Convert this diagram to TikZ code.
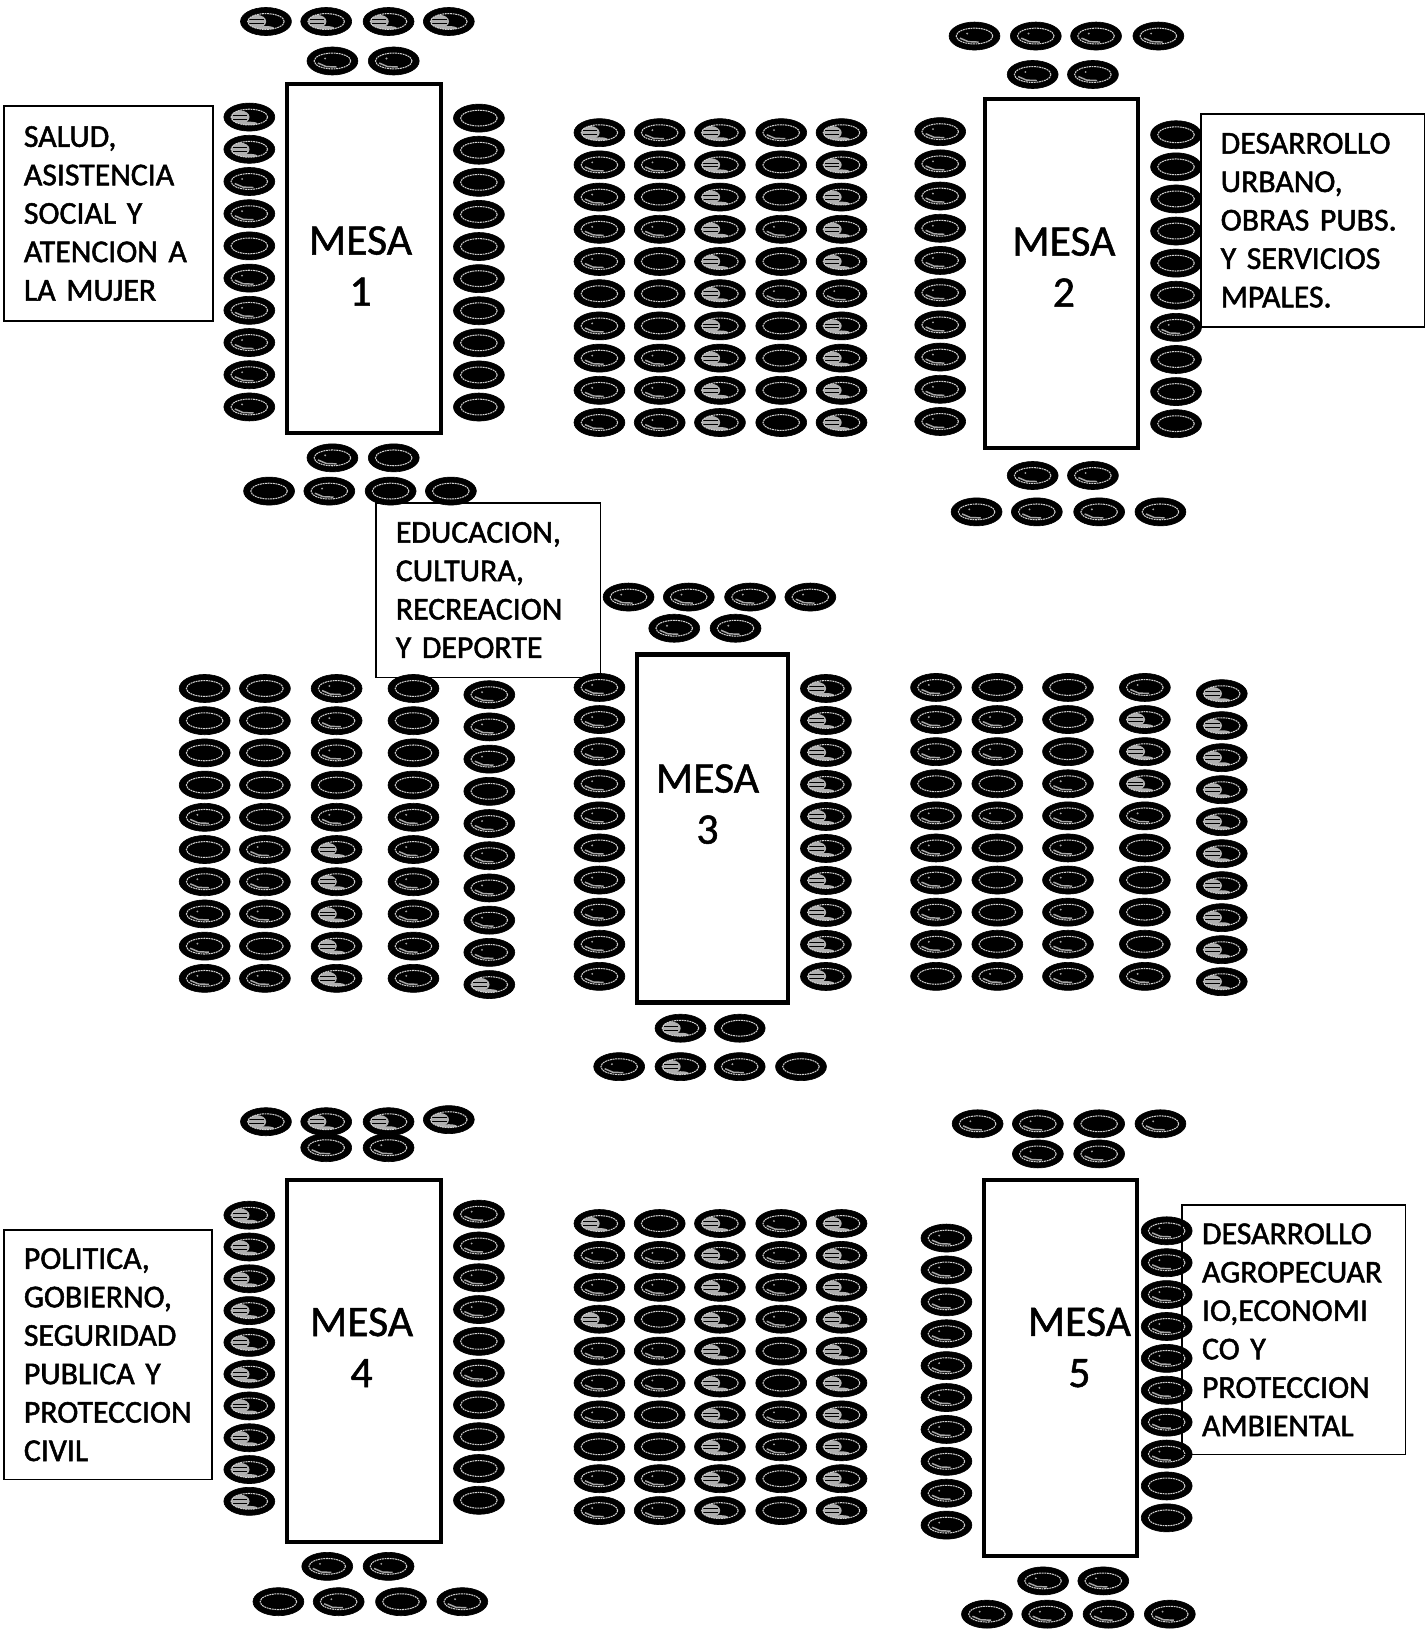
\documentclass[tikz,border=0pt]{standalone}
\usepackage{fontspec}
\setmainfont{Carlito}
\newfontfamily\boxfam[FakeBold=1.6,WordSpace=0.5]{Carlito}
\newfontfamily\mesafam[FakeBold=1.2]{Carlito}
\usetikzlibrary{shapes.geometric}
\tikzset{
  seatbase/.style={ellipse,fill=black,draw=black,line width=0.3pt,inner sep=0pt,minimum width=24.5pt,minimum height=13.5pt},
  ring/.style={draw=white!82!black,line width=0.5pt,dash pattern=on 0.9pt off 0.35pt},
  seat1/.style={seatbase,path picture={
     \draw[ring] (path picture bounding box.center) ellipse [x radius=8.8pt,y radius=3.8pt];}},
  seat2/.style={seatbase,path picture={
     \draw[draw=gray!70,line width=0.7pt] ([xshift=-7pt,yshift=-1pt]path picture bounding box.center) -- ([xshift=-3pt,yshift=-2.7pt]path picture bounding box.center) -- ([xshift=2pt,yshift=-2.9pt]path picture bounding box.center);
     \fill[gray!70] ([xshift=-3.5pt,yshift=1.2pt]path picture bounding box.center) circle [radius=0.5pt];
     \draw[ring] (path picture bounding box.center) ellipse [x radius=8.8pt,y radius=3.8pt];}},
  seat0/.style={seatbase,path picture={
     \begin{scope}
     \clip (path picture bounding box.center) ellipse [x radius=8.8pt,y radius=3.8pt];
     \fill[gray!62] ([xshift=-4.5pt]path picture bounding box.center) ellipse [x radius=4.6pt,y radius=3.2pt];
     \fill[gray!62] ([xshift=0pt,yshift=-3.2pt]path picture bounding box.center) ellipse [x radius=4pt,y radius=1pt];
     \draw[black,line width=0.35pt] ([xshift=-8pt,yshift=0.9pt]path picture bounding box.center) -- ([xshift=-1pt,yshift=0.9pt]path picture bounding box.center);
     \draw[black,line width=0.35pt] ([xshift=-8pt,yshift=-0.9pt]path picture bounding box.center) -- ([xshift=-1pt,yshift=-0.9pt]path picture bounding box.center);
     \end{scope}
     \draw[ring] (path picture bounding box.center) ellipse [x radius=8.8pt,y radius=3.8pt];}},
  mesabox/.style={rectangle,draw=black,line width=2pt,inner sep=0pt},
  mesatext/.style={align=center,inner sep=0pt,font=\mesafam\fontsize{21}{24.6}\selectfont},
  infobox/.style={rectangle,draw=black,line width=0.8pt,inner ysep=0pt,inner xsep=9.5pt,align=left,
     font=\boxfam\fontsize{15.3}{18.5}\selectfont},
}
% column of seats: prefix, x, first y, step, list of seat kinds
\newcommand{\seatcol}[5]{\foreach \s [count=\i from 0] in {#5}{
   \pgfmathsetmacro{\yy}{#3+0.7+\i*#4}
   \node[seat\s] (#1-\i) at (#2,\yy) {};}}
% row of seats: prefix, y, list of x/kind
\newcommand{\seatrow}[3]{\foreach \xx/\s [count=\i from 0] in {#3}{
   \node[seat\s] (#1-\i) at (\xx,#2+0.7) {};}}
\begin{document}
\begin{tikzpicture}[x=0.5pt,y=-0.5pt]
\useasboundingbox (0,0) rectangle (1372,1568);
% ---- MESA 1 seats
\seatrow{aa}{20}{256/0,314/0,374/0,432/0}
\seatrow{ab}{58}{320/2,379/2}
\seatcol{ac}{240}{112}{31}{0,0,2,2,1,2,2,2,2,2}
\seatcol{ad}{461}{113}{30.9}{1,1,1,1,1,1,1,1,1,1}
\seatrow{ae}{440}{320/2,379/1}
\seatrow{af}{472}{259/1,317/2,376/1,434/1}
% ---- block between 1 and 2
\seatcol{ba}{577}{127}{31}{0,2,2,2,2,1,2,2,2,2}
\seatcol{bb}{635}{127}{31}{2,2,1,2,1,1,1,2,2,2}
\seatcol{bc}{693}{127}{31}{0,0,0,0,0,0,0,0,0,0}
\seatcol{bd}{752}{127}{31}{2,1,1,2,1,2,1,1,1,1}
\seatcol{be}{810}{127}{31}{0,0,0,0,0,2,0,0,0,0}
% ---- MESA 2 seats
\seatrow{ca}{34}{938/2,997/2,1055/2,1115/2}
\seatrow{cb}{71}{994/2,1052/2}
\seatcol{cc}{905}{126}{31}{2,2,2,2,2,2,2,2,2,2}
\seatcol{cd}{1132}{129}{30.9}{1,1,1,1,1,1,2,1,1,1}
\seatrow{ce}{457}{994/2,1052/2}
\seatrow{cf}{492}{940/2,998/2,1058/2,1117/2}
% ---- MESA 3 seats
\seatrow{da}{574}{605/2,663/2,722/2,780/2}
\seatrow{db}{604}{649/2,708/2}
\seatcol{dc}{577}{661}{30.9}{2,2,2,2,2,2,2,2,2,2}
\seatcol{dd}{795}{662}{30.8}{0,0,0,0,0,0,0,0,0,0}
\seatrow{de}{989}{655/0,712/1}
\seatrow{df}{1026}{596/2,655/0,712/2,771/1}
% ---- block left of 3
\seatcol{ea}{197}{662}{31}{1,1,1,1,2,1,2,2,2,2}
\seatcol{eb}{255}{662}{31}{1,1,1,1,1,2,2,2,1,2}
\seatcol{ec}{324}{662}{31}{2,2,2,1,2,0,0,0,0,0}
\seatcol{ed}{398}{662}{31}{1,1,1,1,2,2,2,2,2,2}
\seatcol{ee}{471}{668}{31}{2,2,2,1,2,2,2,2,2,0}
% ---- block right of 3
\seatcol{fa}{901}{661}{30.9}{2,2,2,1,2,2,2,2,2,1}
\seatcol{fb}{960}{661}{30.9}{1,2,2,1,2,1,1,1,1,2}
\seatcol{fc}{1028}{661}{30.9}{1,1,1,2,2,2,2,2,2,2}
\seatcol{fd}{1102}{661}{30.9}{2,0,0,0,2,1,1,1,1,2}
\seatcol{fe}{1176}{667}{30.8}{0,0,0,0,0,0,0,0,0,0}
% ---- MESA 4 seats
\seatrow{ga}{1079}{256/0,314/0,374/0}
\node[seat0] (ga-3) at (432,1077.7) {};
\seatrow{gb}{1104}{314/2,374/2}
\seatcol{gc}{240}{1169}{30.6}{0,0,0,0,0,0,0,0,0,0}
\seatcol{gd}{461}{1168}{30.6}{2,2,2,2,1,2,1,1,1,1}
\seatrow{ge}{1507}{315/2,374/2}
\seatrow{gf}{1541}{268/1,326/2,386/1,445/2}
% ---- block between 4 and 5
\seatcol{ha}{577}{1177}{30.7}{0,2,2,0,2,2,2,1,2,2}
\seatcol{hb}{635}{1177}{30.7}{1,2,2,1,2,2,1,1,2,2}
\seatcol{hc}{693}{1177}{30.7}{0,0,0,0,0,0,0,0,0,0}
\seatcol{hd}{752}{1177}{30.7}{2,2,2,2,1,1,2,2,1,1}
\seatcol{he}{810}{1177}{30.7}{0,0,0,0,0,0,0,0,0,0}
% ---- MESA 5 seats
\seatrow{ia}{1081}{941/2,999/2,1058/1,1117/2}
\seatrow{ib}{1110}{999/2,1058/2}
\seatcol{ic}{911}{1191}{30.7}{2,2,2,2,2,2,2,2,2,2}
\seatcol{id}{1123}{1184}{30.7}{2,2,2,2,2,2,2,2,1,1}
\seatrow{ie}{1521}{1004/2,1062/2}
\seatrow{if}{1553}{950/2,1008/2,1067/2,1126/2}
% ---- tables
\node[mesabox,minimum width=74pt,minimum height=168pt] (m1) at (350.5,249) {};
\node[mesabox,minimum width=73.5pt,minimum height=168pt] (m2) at (1022,263) {};
\node[mesabox,minimum width=72.5pt,minimum height=167.5pt] (m3) at (686,797.5) {};
\node[mesabox,minimum width=74pt,minimum height=174pt] (m4) at (350.5,1310) {};
\node[mesabox,minimum width=73.5pt,minimum height=181pt] (m5) at (1021,1317) {};
\node[mesatext] (t1) at (347,256) {MESA\\1};
\node[mesatext] (t2) at (1024,257) {MESA\\2};
\node[mesatext] (t3) at (681,774) {MESA\\3};
\node[mesatext] (t4) at (348,1297) {MESA\\4};
\node[mesatext] (t5) at (1039,1297) {MESA\\5};
% ---- labels
\node[infobox,text width=81.5pt,minimum height=103.5pt] (b1) at (104.5,205.5) {SALUD,\\ASISTENCIA\\SOCIAL Y\\ATENCION A\\LA MUJER};
\node[infobox,text width=88.5pt,minimum height=102.5pt] (b2) at (1263.5,212) {DESARROLLO\\URBANO,\\OBRAS PUBS.\\Y SERVICIOS\\MPALES.};
\node[infobox,text width=89pt,minimum height=84pt] (b3) at (470,568) {EDUCACION,\\CULTURA,\\RECREACION\\Y DEPORTE};
\node[infobox,text width=81pt,minimum height=120pt] (b4) at (104,1304) {POLITICA,\\GOBIERNO,\\SEGURIDAD\\PUBLICA Y\\PROTECCION\\CIVIL};
\node[infobox,text width=88.5pt,minimum height=120pt] (b5) at (1245.5,1280) {DESARROLLO\\AGROPECUAR\\IO,ECONOMI\\CO Y\\PROTECCION\\AMBIENTAL};
\end{tikzpicture}
\end{document}
